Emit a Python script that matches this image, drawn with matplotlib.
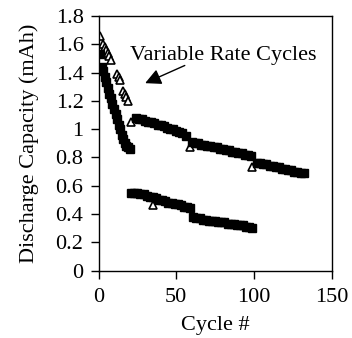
import matplotlib
matplotlib.use("Agg")
import matplotlib.pyplot as plt
from matplotlib.ticker import FuncFormatter, FixedLocator

# ---- data ----
# filled squares: constant-rate capacity
sq_early_x = list(range(1, 21))
sq_early_y = [1.53, 1.44, 1.41, 1.37, 1.33, 1.29, 1.25, 1.22, 1.18, 1.14,
              1.11, 1.07, 1.03, 1.00, 0.96, 0.93, 0.90, 0.88, 0.87, 0.86]

up1_x = list(range(24, 57, 2))
up1_y = [1.08, 1.07, 1.07, 1.06, 1.05, 1.05, 1.04, 1.03, 1.03, 1.02,
         1.01, 1.00, 1.00, 0.99, 0.98, 0.97, 0.95]
up2_x = list(range(60, 99, 2))
up2_y = [0.91, 0.90, 0.90, 0.89, 0.89, 0.88, 0.88, 0.87, 0.87, 0.86,
         0.86, 0.85, 0.85, 0.84, 0.84, 0.83, 0.83, 0.82, 0.82, 0.81]
up3_x = list(range(102, 133, 2))
up3_y = [0.76, 0.76, 0.75, 0.75, 0.74, 0.74, 0.73, 0.73, 0.72, 0.72,
         0.71, 0.71, 0.70, 0.70, 0.69, 0.69]

low1_x = list(range(21, 60, 2))
low1_y = [0.55, 0.55, 0.55, 0.54, 0.54, 0.53, 0.52, 0.52, 0.51, 0.50,
          0.50, 0.49, 0.48, 0.48, 0.47, 0.47, 0.46, 0.45, 0.45, 0.44]
low2_x = list(range(61, 100, 2))
low2_y = [0.38, 0.37, 0.37, 0.36, 0.36, 0.35, 0.35, 0.35, 0.34, 0.34,
          0.34, 0.33, 0.33, 0.33, 0.32, 0.32, 0.32, 0.31, 0.31, 0.30]

# open triangles: variable rate cycles
tri_x = [1, 3, 4, 5, 6, 7, 8, 12, 13, 14, 16, 17, 18, 19, 21, 35, 59, 99]
tri_y = [1.66, 1.60, 1.58, 1.56, 1.54, 1.52, 1.49, 1.39, 1.37, 1.35,
         1.27, 1.25, 1.23, 1.20, 1.05, 0.46, 0.87, 0.73]

x_ticks = [0, 50, 100, 150]
y_ticks = [0, 0.2, 0.4, 0.6, 0.8, 1.0, 1.2, 1.4, 1.6, 1.8]

annot_text = "Variable Rate Cycles"
annot_tip = (30, 1.325)
annot_tail = (55.5, 1.45)

# ---- figure ----
plt.rcParams['font.family'] = ['Liberation Serif', 'DejaVu Serif']
plt.rcParams['font.size'] = 16

fig = plt.figure(figsize=(3.52, 3.38), dpi=100)
ax = fig.add_axes([98.5 / 352, (338 - 270.5) / 338,
                   (331.7 - 98.5) / 352, (270.5 - 16) / 338])

ax.plot(tri_x, tri_y, linestyle='none', marker='^', ms=5.5, mfc='white',
        mec='black', mew=1.2, zorder=2)
for xs, ys in [(sq_early_x, sq_early_y), (up1_x, up1_y), (up2_x, up2_y),
               (up3_x, up3_y), (low1_x, low1_y), (low2_x, low2_y)]:
    ax.plot(xs, ys, linestyle='none', marker='s', ms=6.3, color='black',
            mec='black', zorder=3)

ax.set_xlim(0, 150)
ax.set_ylim(0, 1.8)
ax.xaxis.set_major_locator(FixedLocator(x_ticks))
ax.yaxis.set_major_locator(FixedLocator(y_ticks))
ax.yaxis.set_major_formatter(FuncFormatter(lambda v, p: '%g' % round(v, 1)))
ax.tick_params(direction='out', length=5.8, width=1.0, labelsize=16,
               top=False, right=False)
ax.tick_params(axis='x', pad=7)
ax.tick_params(axis='y', pad=5)
for s in ax.spines.values():
    s.set_linewidth(1.0)

ax.set_xlabel("Cycle #", fontsize=16, labelpad=6)
ax.set_ylabel("Discharge Capacity (mAh)", fontsize=16, labelpad=12)

ax.text(20.5, 1.49, annot_text, fontsize=16, ha='left', va='baseline')
ax.annotate("", xy=annot_tip, xytext=annot_tail,
            arrowprops=dict(arrowstyle='-|>,head_length=0.6,head_width=0.3',
                            color='black', lw=1.0, shrinkA=0, shrinkB=0))

fig.savefig("out.png", dpi=100)
